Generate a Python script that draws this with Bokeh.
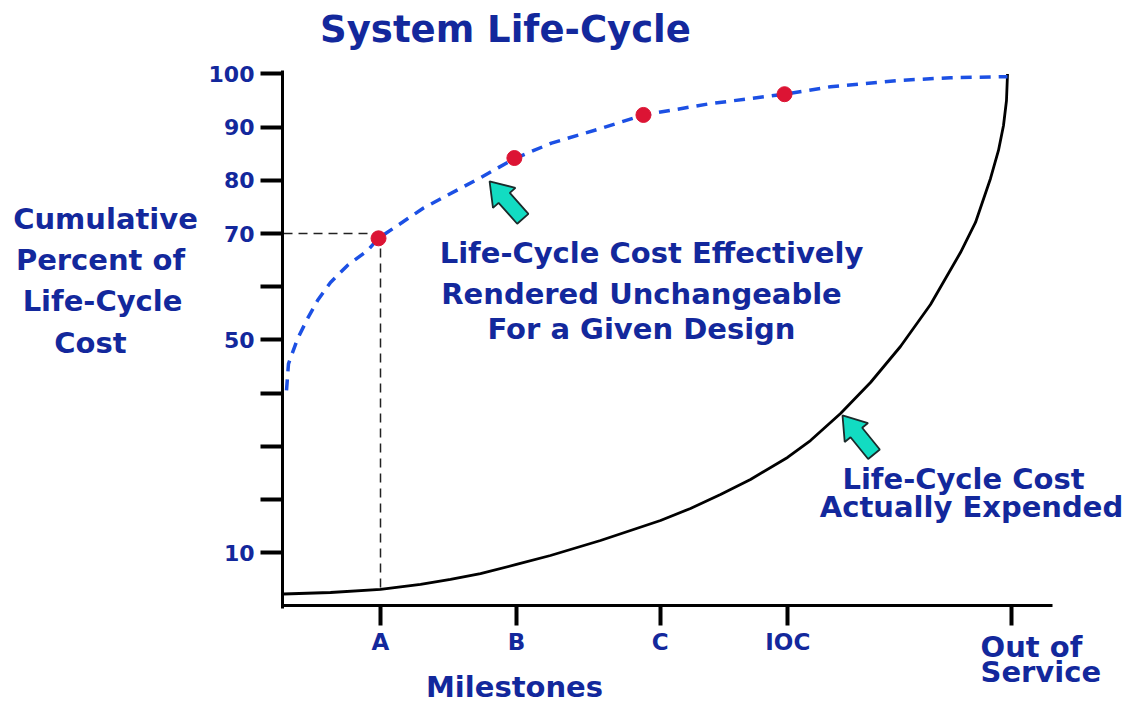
import math
from bokeh.plotting import figure
from bokeh.models import Range1d, FixedTicker, CustomJSTickFormatter, Label
from bokeh.embed import file_html
from bokeh.resources import INLINE

# ---------------- data ----------------
milestone_labels = ["A", "B", "C", "IOC", "Out of Service"]
milestone_pos = [13.44, 32.1, 51.8, 69.3, 100.0]

y_ticks = [10, 20, 30, 40, 50, 60, 70, 80, 90, 100]
y_tick_labels = {20: "", 30: "", 40: "", 60: ""}

# life-cycle cost effectively rendered unchangeable (blue dashed)
locked_x = [0.55, 0.82, 2.06, 3.43, 4.80, 6.58, 8.91, 11.66, 13.17, 19.34, 27.15,
            31.82, 36.89, 43.75, 49.51, 58.56, 68.85, 75.15, 84.75, 91.61, 99.43]
locked_y = [40.5, 45.5, 50.2, 54.0, 57.4, 60.8, 64.0, 66.8, 69.1, 74.8, 80.5,
            84.1, 87.0, 89.8, 92.3, 94.4, 96.2, 97.6, 98.8, 99.3, 99.5]

# milestone markers (red dots)
dots_x = [13.17, 31.8, 49.5, 68.85]
dots_y = [69.1, 84.2, 92.3, 96.2]

# life-cycle cost actually expended (black)
spent_x = [0.14, 6.58, 13.44, 18.93, 23.04, 27.15, 32.09, 36.75, 43.61, 47.73, 51.84,
           55.95, 60.07, 64.18, 69.26, 72.41, 76.53, 80.64, 84.75, 88.87, 92.98,
           95.04, 97.10, 98.19, 98.88, 99.29, 99.43]
spent_y = [2.22, 2.50, 3.07, 4.01, 4.95, 6.07, 7.77, 9.46, 12.28, 14.16, 16.04,
           18.30, 20.93, 23.75, 27.89, 31.08, 36.16, 41.99, 48.76, 56.66, 66.43,
           72.08, 80.35, 85.62, 90.32, 95.02, 100.0]

ref_level = 70
ref_x = 13.44
ref_floor = 3.1

NAVY = "#13289c"
FONT = "DejaVu Sans"

W, H = 1130, 702
# pixel geometry of the plotting area
X0_PX, Y0_PX = 282, 605.3
PXX = 770 / 105.6     # px per x unit
PXY = 535 / 100.6     # px per y unit


def px2x(px):
    return (px - X0_PX) / PXX


def py2y(py):
    return (Y0_PX - py) / PXY


p = figure(width=W, height=H,
           x_range=Range1d(px2x(0), px2x(W)), y_range=Range1d(py2y(H), py2y(0)),
           output_backend="svg", toolbar_location=None,
           min_border=0,
           background_fill_color="white", border_fill_color="white")
p.outline_line_color = None
p.grid.visible = False

# y axis
ya = p.yaxis[0]
ya.fixed_location = 0
ya.bounds = (py2y(608), py2y(70))
ya.ticker = FixedTicker(ticks=y_ticks)
ya.major_label_overrides = y_tick_labels
ya.axis_line_width = 3
ya.axis_line_color = "black"
ya.major_tick_out = 22
ya.major_tick_in = 0
ya.major_tick_line_width = 4
ya.minor_tick_out = 0
ya.minor_tick_in = 0
ya.major_label_standoff = 6
ya.major_label_text_font = FONT
ya.major_label_text_font_style = "bold"
ya.major_label_text_font_size = "22px"
ya.major_label_text_color = NAVY

# x axis
xa = p.xaxis[0]
xa.fixed_location = 0
xa.bounds = (0, px2x(1052))
xa.ticker = FixedTicker(ticks=milestone_pos)
xa.formatter = CustomJSTickFormatter(args=dict(labels=milestone_labels[:4] + [""]),
                                     code="return labels[index]")
xa.axis_line_width = 3
xa.axis_line_color = "black"
xa.major_tick_out = 20
xa.major_tick_in = 0
xa.major_tick_line_width = 4
xa.minor_tick_out = 0
xa.minor_tick_in = 0
xa.major_label_standoff = 3
xa.major_label_text_font = FONT
xa.major_label_text_font_style = "bold"
xa.major_label_text_font_size = "23px"
xa.major_label_text_color = NAVY

# reference dashed lines
p.segment(x0=[0.14, ref_x], y0=[ref_level, ref_level], x1=[ref_x, ref_x], y1=[ref_level, ref_floor],
          line_color="#222222", line_width=1.5, line_dash="9 6")

# curves
p.line(spent_x, spent_y, line_color="black", line_width=2.8, line_join="round")
p.line(locked_x, locked_y, line_color="#1c50e4", line_width=3.5, line_dash="11 8",
       line_join="round")
p.scatter(dots_x, dots_y, size=15, fill_color="#dc1434", line_color="#dc1434")

# block arrows
arrow_tips = [(28.4, 79.8), (76.8, 35.8)]
arrow_dirs = [(32, 36), (30, 37)]
for (tx, ty), (dx, dy) in zip(arrow_tips, arrow_dirs):
    L = math.hypot(dx, dy)
    ux, uy = dx / L, dy / L          # pixel space, y down
    nx, ny = -uy, ux
    shape = [(0, 0), (22, 15), (22, 7.5), (50, 7.5), (50, -7.5), (22, -7.5), (22, -15)]
    xs, ys = [], []
    for a, b in shape:
        px = ux * a + nx * b
        py = uy * a + ny * b
        xs.append(tx + px / PXX)
        ys.append(ty - py / PXY)
    p.patch(xs, ys, fill_color="#12dcc2", line_color="#1b2b2b", line_width=1.8)


def add_text(txt, px, py, size, align="center"):
    p.add_layout(Label(x=px2x(px), y=py2y(py), text=txt, text_font=FONT,
                       text_font_style="bold", text_font_size=size, text_color=NAVY,
                       text_align=align, text_baseline="middle"))


add_text("System Life-Cycle", 505, 29, "37px")
add_text("Cumulative", 105, 218, "29px")
add_text("Percent of", 100, 259, "29px")
add_text("Life-Cycle", 102, 300, "29px")
add_text("Cost", 90, 342, "29px")
add_text("Life-Cycle Cost Effectively", 651, 252, "29px")
add_text("Rendered Unchangeable", 641, 293, "29px")
add_text("For a Given Design", 641, 328, "29px")
add_text("Life-Cycle Cost", 963, 478, "29px")
add_text("Actually Expended", 971, 506, "29px")
add_text("Milestones", 514, 686, "29px")
add_text("Out of", 980, 646, "29px", align="left")
add_text("Service", 980, 671, "29px", align="left")

open("out.html", "w").write(file_html(p, INLINE))
